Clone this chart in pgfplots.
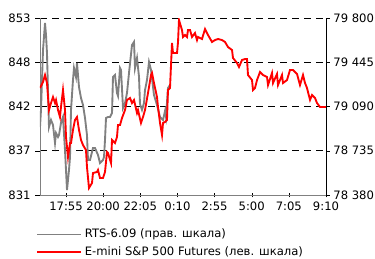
\documentclass[border=0pt]{standalone}
\usepackage{pgfplots}
\pgfplotsset{compat=1.18}
\usepackage{fontspec}
\setmainfont{DejaVu Sans}
\begin{document}
\begin{tikzpicture}
\path[use as bounding box] (0,0) rectangle (281.25pt,193.5pt);
% right scale: RTS-6.09 (gray)
\begin{axis}[
  at={(30pt,47.25pt)}, anchor=south west,
  scale only axis, width=214.5pt, height=132.75pt,
  xmin=-0.7, xmax=7,
  ymin=78380, ymax=79800,
  scaled y ticks=false,
  axis x line=none,
  axis y line*=right,
  y axis line style={black,-},
  ytick={78380,78735,79090,79445,79800},
  yticklabels={78 380,78 735,79 090,79 445,79 800},
  ymajorgrids,
  grid style={black, line width=0.6pt, dash pattern=on 5.5pt off 3.5pt},
  tick align=outside, major tick length=3pt,
  tick style={black},
  ticklabel style={font=\fontsize{8.7}{10}\selectfont},
  yticklabel style={xshift=-1pt},
  clip=true,
]
\addplot[color=gray, line width=1.4pt] coordinates {
(-0.700,78925) (-0.673,79062) (-0.619,79543) (-0.565,79760) (-0.538,79664)
(-0.512,79519) (-0.485,79222) (-0.458,78926) (-0.404,78982) (-0.350,78942)
(-0.296,78797) (-0.269,78877) (-0.215,78845) (-0.188,78861) (-0.135,78958)
(-0.081,79006) (-0.027,78741) (0.027,78420) (0.081,78581) (0.108,78685)
(0.135,79062) (0.188,79303) (0.215,79399) (0.269,79327) (0.296,79439)
(0.350,79246) (0.404,79158) (0.458,79102) (0.512,78998) (0.565,78861)
(0.592,78661) (0.646,78661) (0.727,78757) (0.781,78757) (0.862,78701)
(0.915,78637) (0.996,78661) (1.023,78685) (1.050,78821) (1.077,78998)
(1.131,79006) (1.185,79006) (1.239,79038) (1.265,79327) (1.319,79343)
(1.373,79198) (1.400,79174) (1.454,79399) (1.481,79383) (1.535,79078)
(1.589,79118) (1.642,79198) (1.696,79359) (1.777,79583) (1.831,79608)
(1.858,79399) (1.912,79479) (1.966,79327) (1.992,79110) (2.046,79062)
(2.100,79118) (2.127,79222) (2.181,79303) (2.235,79447) (2.289,79383)
(2.369,79182) (2.450,79102) (2.531,79006) (2.612,78982) (2.666,79054)
(2.692,79006) (2.746,79238) (2.800,79263)
};
\end{axis}
% left scale: E-mini S&P 500 (red)
\begin{axis}[
  at={(30pt,47.25pt)}, anchor=south west,
  scale only axis, width=214.5pt, height=132.75pt,
  xmin=-0.7, xmax=7,
  ymin=831, ymax=853,
  axis x line*=bottom,
  axis y line*=left,
  x axis line style={gray,-},
  y axis line style={gray,-},
  xtick={0,1,2,3,4,5,6,7},
  xticklabels={17:55,20:00,22:05,0:10,2:55,5:00,7:05,9:10},
  ytick={831,836.5,842,847.5,853},
  yticklabels={831,837,842,848,853},
  tick style={black},
  major tick length=3.5pt,
  xtick align=center, ytick align=outside,
  ticklabel style={font=\fontsize{8.7}{10}\selectfont},
  legend style={at={(-0.014,-0.176)}, anchor=north west, draw=none, fill=none,
    font=\fontsize{8.7}{10}\selectfont, inner sep=0pt, row sep=1.2pt},
  legend cell align=left,
  legend image code/.code={\draw[#1] (0pt,0pt) -- (33pt,0pt);},
]
\addlegendimage{color=gray, line width=1.4pt}
\addlegendentry{RTS-6.09 (прав. шкала)}
\addlegendimage{color=red, line width=1.4pt}
\addlegendentry{E-mini S\&P 500 Futures (лев. шкала)}
\addplot[color=red, line width=1.4pt, forget plot] coordinates {
(-0.700,844.30) (-0.619,845.04) (-0.565,845.91) (-0.512,844.92) (-0.458,841.56)
(-0.404,842.43) (-0.350,843.18) (-0.296,842.43) (-0.269,842.81) (-0.215,841.56)
(-0.162,840.69) (-0.135,841.94) (-0.081,844.05) (-0.027,841.56) (0.000,838.21)
(0.054,835.72) (0.108,837.46) (0.135,837.46) (0.188,839.08) (0.242,840.32)
(0.296,840.69) (0.350,839.08) (0.404,837.84) (0.458,837.21) (0.538,836.59)
(0.565,834.48) (0.619,831.87) (0.700,832.49) (0.727,833.73) (0.835,833.86)
(0.862,834.11) (0.915,833.11) (0.996,833.11) (1.050,833.86) (1.104,836.34)
(1.131,836.22) (1.212,834.98) (1.239,837.84) (1.319,837.46) (1.373,838.21)
(1.400,839.70) (1.454,839.70) (1.508,840.57) (1.589,841.56) (1.642,842.81)
(1.723,843.06) (1.777,842.43) (1.831,842.81) (1.912,841.19) (1.939,841.56)
(2.019,839.95) (2.073,840.69) (2.127,841.56) (2.208,843.68) (2.289,845.91)
(2.316,846.16) (2.369,844.92) (2.450,843.18) (2.477,841.94) (2.531,839.95)
(2.585,838.46) (2.612,839.95) (2.666,840.07) (2.719,840.32) (2.746,844.05)
(2.800,844.30) (2.854,849.89) (2.881,848.65) (2.989,848.65) (3.016,850.02)
(3.042,852.75) (3.123,851.51) (3.150,850.64) (3.204,850.89) (3.258,850.64)
(3.285,851.51) (3.339,851.51) (3.393,850.64) (3.473,851.13) (3.527,850.26)
(3.554,850.64) (3.662,850.39) (3.743,851.63) (3.823,850.89) (3.931,850.02)
(4.012,850.26) (4.093,850.39) (4.200,850.26) (4.281,850.02) (4.362,849.39)
(4.470,849.02) (4.496,848.03) (4.604,847.41) (4.658,846.91) (4.739,847.78)
(4.820,847.90) (4.873,847.90) (4.900,845.91) (5.008,845.29) (5.035,844.05)
(5.089,844.30) (5.143,845.29) (5.224,846.29) (5.304,845.91) (5.412,845.67)
(5.439,844.67) (5.547,846.16) (5.574,844.92) (5.681,846.04) (5.708,844.67)
(5.816,845.91) (5.843,844.92) (5.950,845.29) (6.031,846.54) (6.112,846.54)
(6.220,846.04) (6.300,844.67) (6.381,845.91) (6.435,844.92) (6.489,844.30)
(6.570,842.81) (6.624,843.43) (6.704,843.06) (6.758,842.43) (6.839,841.94)
(7.000,841.94)
};
\end{axis}
\end{tikzpicture}
\end{document}
